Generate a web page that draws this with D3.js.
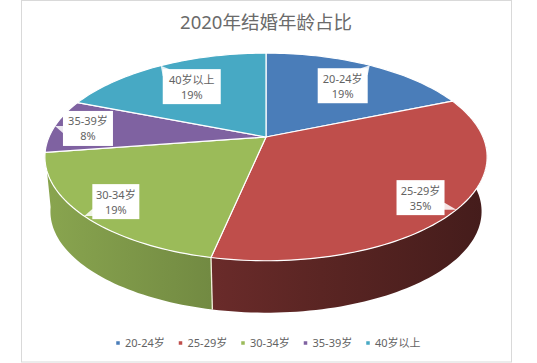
<!DOCTYPE html>
<html>
<head>
<meta charset="utf-8">
<style>
  html, body { margin: 0; background: #fff; }
  svg { display: block; }
  text { font-family: "Noto Sans", "Noto Sans CJK SC", sans-serif; fill: #636363; }
  .title { font-size: 18.5px; text-anchor: middle; fill: #6a6a6a; }
  .label { font-size: 11px; text-anchor: middle; }
  .legend { font-size: 11px; }
</style>
</head>
<body>
<div class="chart"></div>
<script src="https://d3js.org/d3.v7.min.js"></script>
<script>
const titleText = "2020年结婚年龄占比";
const categories = ["20-24岁", "25-29岁", "30-34岁", "35-39岁", "40岁以上"];
const shares = [18.7, 34.6, 19.3, 8.4, 19.0];
const colors = ["#4a7db9", "#bf4e4b", "#9bbb59", "#7f62a1", "#47a9c4"];

const width = 537, height = 363;

// hub of the pie and the tilt, the pie is a circle seen in perspective
const hubX = 266, hubY = 137;
const radiusX = 217, radiusY = 100, tilt = 0.192;
// bottom rim of the pie
const depth = 55, bottomScale = 0.975;

// where each label box sits, relative to the rim point it points at
const labelOffsets = [[-27, 20.5], [-36, -12], [31.5, -14.5], [33, 2.5], [31, 21]];
const boxHeight = 35;
const boxWidths = [50, 48, 47, 50, 58];

const svg = d3.select(".chart").append("svg")
    .attr("width", width)
    .attr("height", height);

// chart frame
svg.append("rect")
    .attr("x", 21.5)
    .attr("y", 0.5)
    .attr("width", 490)
    .attr("height", 361.5)
    .attr("fill", "#fff")
    .attr("stroke", "#d9d9d9");

svg.append("text")
    .attr("class", "title")
    .attr("x", 266)
    .attr("y", 29)
    .text(titleText);

const total = d3.sum(shares);
const pie = d3.pie().sort(null).value(d => d)(shares);

function project(angle, scale = 1, drop = 0) {
    const u = Math.sin(angle), v = -Math.cos(angle);
    const w = 1 - tilt * v;
    return [
        hubX + radiusX * scale * u / w,
        hubY + drop + radiusY * scale * v / w
    ];
}

function rim(start, end, scale, drop) {
    const n = Math.max(2, Math.ceil((end - start) * 40));
    return d3.range(n + 1).map(i => project(start + (end - start) * i / n, scale, drop));
}

const line = d3.line();

const defs = svg.append("defs");
// only the red and green slices show a wall from this viewpoint
const wallStops = [
    null,
    [[0, d3.color(colors[1]).darker(1.65)], [0.4, d3.color(colors[1]).darker(2.1)], [1, d3.color(colors[1]).darker(2.9)]],
    [[0, d3.color(colors[2]).darker(0.35)], [1, d3.color(colors[2]).darker(0.85)]],
    null,
    null
];
wallStops.forEach((stops, i) => {
    if (!stops) return;
    const xs = rim(pie[i].startAngle, pie[i].endAngle, 1, 0).map(p => p[0]);
    const g = defs.append("linearGradient")
        .attr("id", "wall" + i)
        .attr("gradientUnits", "userSpaceOnUse")
        .attr("x1", d3.min(xs))
        .attr("x2", d3.max(xs))
        .attr("y1", 0)
        .attr("y2", 0);
    stops.forEach(s => g.append("stop").attr("offset", s[0]).attr("stop-color", s[1]));
});

// side walls first, the top goes over them
svg.append("g").selectAll("path")
    .data(pie.filter((d, i) => wallStops[i]))
    .enter()
    .append("path")
    .attr("d", d => {
        const top = rim(d.startAngle, d.endAngle, 1, 0);
        const bottom = rim(d.startAngle, d.endAngle, bottomScale, depth).reverse();
        return line(top.concat(bottom)) + "Z";
    })
    .attr("fill", d => `url(#wall${d.index})`)
    .attr("stroke", "none");

// light edge between the two visible walls
svg.append("path")
    .attr("d", line([project(pie[1].endAngle), project(pie[1].endAngle, bottomScale, depth)]))
    .attr("stroke", "#f3efdc")
    .attr("stroke-width", 1.3)
    .attr("fill", "none");

// top of the pie
svg.append("g").selectAll("path")
    .data(pie)
    .enter()
    .append("path")
    .attr("d", d => line([[hubX, hubY]].concat(rim(d.startAngle, d.endAngle, 1, 0))) + "Z")
    .attr("fill", (d, i) => colors[i])
    .attr("stroke", "#fff")
    .attr("stroke-width", 1.2)
    .attr("stroke-linejoin", "round");

// data labels with their little tails
const labels = svg.append("g").selectAll("g")
    .data(pie)
    .enter()
    .append("g");

function boxOf(d, i) {
    const tip = project((d.startAngle + d.endAngle) / 2);
    const cx = tip[0] + labelOffsets[i][0], cy = tip[1] + labelOffsets[i][1];
    const w = boxWidths[i];
    return { tip, cx, cy, w, x0: cx - w / 2, x1: cx + w / 2, y0: cy - boxHeight / 2, y1: cy + boxHeight / 2 };
}

labels.append("path")
    .attr("d", (d, i) => {
        const b = boxOf(d, i);
        const nearX = b.tip[0] < b.x0 ? b.x0 : b.tip[0] > b.x1 ? b.x1 : b.tip[0];
        const nearY = b.tip[1] < b.y0 ? b.y0 : b.tip[1] > b.y1 ? b.y1 : b.tip[1];
        const signX = b.cx > nearX ? 1 : -1, signY = b.cy > nearY ? 1 : -1;
        return line([b.tip, [nearX + signX * 7, nearY], [nearX, nearY + signY * 7]]) + "Z";
    })
    .attr("fill", "#fff")
    .attr("fill-opacity", 0.85)
    .attr("stroke", "none");

labels.append("rect")
    .attr("x", (d, i) => boxOf(d, i).x0)
    .attr("y", (d, i) => boxOf(d, i).y0)
    .attr("width", (d, i) => boxOf(d, i).w)
    .attr("height", boxHeight)
    .attr("fill", "#fff");

labels.append("text")
    .attr("class", "label")
    .attr("x", (d, i) => boxOf(d, i).cx)
    .attr("y", (d, i) => boxOf(d, i).cy - 3)
    .text((d, i) => categories[i]);

labels.append("text")
    .attr("class", "label")
    .attr("x", (d, i) => boxOf(d, i).cx)
    .attr("y", (d, i) => boxOf(d, i).cy + 12)
    .text(d => d3.format(".0%")(d.value / total));

// legend, evenly spaced along the bottom
const legendX = d3.scalePoint().domain(categories).range([118, 368]);
const legend = svg.append("g").selectAll("g")
    .data(categories)
    .enter()
    .append("g")
    .attr("transform", d => `translate(${legendX(d)},343)`);

legend.append("rect")
    .attr("x", -1.75)
    .attr("y", -1.75)
    .attr("width", 3.5)
    .attr("height", 3.5)
    .attr("fill", (d, i) => colors[i]);

legend.append("text")
    .attr("class", "legend")
    .attr("x", 7)
    .attr("y", 4)
    .text(d => d);
</script>
</body>
</html>
